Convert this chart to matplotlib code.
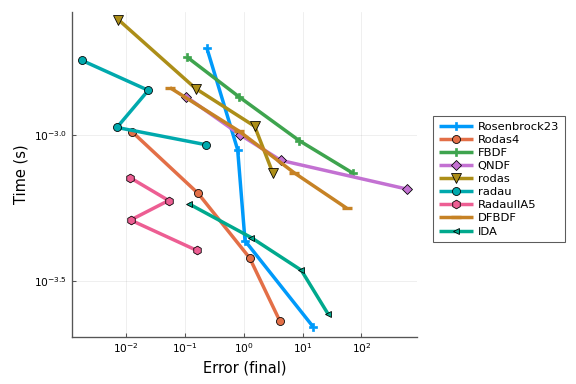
import matplotlib
matplotlib.use("Agg")
import matplotlib.pyplot as plt
import numpy as np
from matplotlib.ticker import FixedLocator, FixedFormatter, NullLocator

# work-precision data (error, time in s)
names = ["Rosenbrock23", "Rodas4", "FBDF", "QNDF", "rodas", "radau", "RadauIIA5", "DFBDF", "IDA"]

err_rosenbrock23 = [0.234, 0.787, 1.05, 15.2]
time_rosenbrock23 = [1.99e-3, 8.89e-4, 4.34e-4, 2.20e-4]

err_rodas4 = [0.0127, 0.168, 1.26, 4.13]
time_rodas4 = [1.023e-3, 6.30e-4, 3.79e-4, 2.30e-4]

err_fbdf = [0.107, 0.828, 8.79, 71.1]
time_fbdf = [1.85e-3, 1.35e-3, 9.55e-4, 7.40e-4]

err_qndf = [0.105, 0.871, 4.25, 597.0]
time_qndf = [1.35e-3, 1.00e-3, 8.18e-4, 6.52e-4]

err_rodas = [0.00735, 0.152, 1.53, 3.10]
time_rodas = [2.48e-3, 1.44e-3, 1.07e-3, 7.43e-4]

err_radau = [0.00175, 0.0238, 0.00698, 0.228]
time_radau = [1.80e-3, 1.42e-3, 1.06e-3, 9.25e-4]

err_radauiia5 = [0.0116, 0.0528, 0.0119, 0.160]
time_radauiia5 = [7.14e-4, 5.96e-4, 5.11e-4, 4.02e-4]

err_dfbdf = [0.0556, 0.828, 7.23, 56.2]
time_dfbdf = [1.45e-3, 1.03e-3, 7.41e-4, 5.61e-4]

err_ida = [0.116, 1.34, 9.51, 27.0]
time_ida = [5.81e-4, 4.45e-4, 3.44e-4, 2.44e-4]

errs = [err_rosenbrock23, err_rodas4, err_fbdf, err_qndf, err_rodas,
        err_radau, err_radauiia5, err_dfbdf, err_ida]
times = [time_rosenbrock23, time_rodas4, time_fbdf, time_qndf, time_rodas,
         time_radau, time_radauiia5, time_dfbdf, time_ida]

colors = ["#009AFA", "#E36F47", "#3EA44E", "#C371D2", "#AC8E18",
          "#00A9AD", "#ED5E93", "#C68225", "#00A98D"]
markers = ["P", "o", "P", "D", "v", "o", "h", "_", "<"]
msizes = [6.5, 6, 6.5, 5, 7, 6, 6.5, 7, 5]

fig = plt.figure(figsize=(6, 4), dpi=96)
ax = fig.add_axes([0.125, 0.123, 0.599, 0.847])

for n, x, y, c, m, s in zip(names, errs, times, colors, markers, msizes):
    if m == "P":
        mec = c
        mew = 0.5
    elif m == "_":
        mec = c
        mew = 2.5
    else:
        mec = "black"
        mew = 0.6
    ax.plot(x, y, color=c, lw=2.6, marker=m, ms=s, mfc=c, mec=mec, mew=mew,
            label=n, solid_capstyle="butt")

ax.set_xscale("log")
ax.set_yscale("log")
ax.set_xlim(10**-2.92, 10**2.945)
ax.set_ylim(10**-3.691, 10**-2.578)

xt = [1e-2, 1e-1, 1e0, 1e1, 1e2]
ax.xaxis.set_major_locator(FixedLocator(xt))
ax.xaxis.set_major_formatter(FixedFormatter([r"$10^{-2}$", r"$10^{-1}$", r"$10^{0}$",
                                             r"$10^{1}$", r"$10^{2}$"]))
ax.xaxis.set_minor_locator(NullLocator())
yt = [10**-3.5, 10**-3.0]
ax.yaxis.set_major_locator(FixedLocator(yt))
ax.yaxis.set_major_formatter(FixedFormatter([r"$10^{-3.5}$", r"$10^{-3.0}$"]))
ax.yaxis.set_minor_locator(NullLocator())

ax.grid(True, color="black", alpha=0.08, lw=0.6)
ax.tick_params(direction="in", length=3, width=0.8, colors="#555555",
               labelcolor="black", labelsize=8)
for sp in ["top", "right"]:
    ax.spines[sp].set_visible(False)
for sp in ["left", "bottom"]:
    ax.spines[sp].set_color("#555555")
    ax.spines[sp].set_linewidth(1.0)

ax.set_xlabel("Error (final)", fontsize=11)
ax.set_ylabel("Time (s)", fontsize=11)

leg = ax.legend(loc="center left", bbox_to_anchor=(1.03, 0.485), fontsize=8.6,
                frameon=True, fancybox=False, handlelength=3.0,
                labelspacing=0.27, borderpad=0.5, handletextpad=0.4)
leg.get_frame().set_edgecolor("#333333")
leg.get_frame().set_linewidth(0.8)

fig.savefig("out.png", dpi=96)
